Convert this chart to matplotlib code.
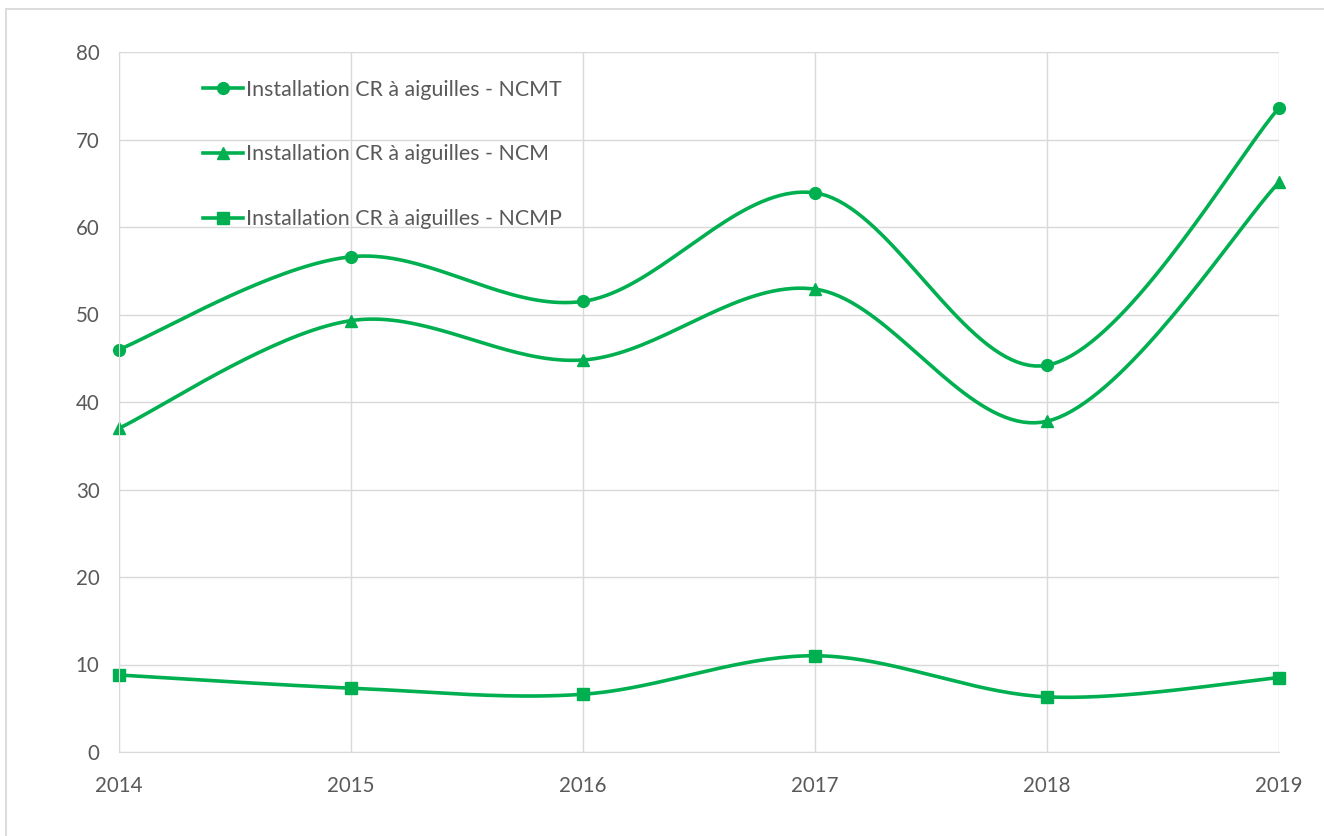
import numpy as np
import matplotlib
matplotlib.use("Agg")
import matplotlib.pyplot as plt
from matplotlib.patches import Rectangle

years = [2014, 2015, 2016, 2017, 2018, 2019]
ncmt = [46.0, 56.6, 51.5, 63.9, 44.2, 73.6]
ncm = [37.0, 49.3, 44.8, 52.9, 37.8, 65.1]
ncmp = [8.8, 7.3, 6.6, 11.0, 6.3, 8.5]
labels = ["Installation CR à aiguilles - NCMT",
          "Installation CR à aiguilles - NCM",
          "Installation CR à aiguilles - NCMP"]
markers = ["o", "^", "s"]
yticks = [0, 10, 20, 30, 40, 50, 60, 70, 80]

GREEN = "#00B050"
TXT = "#595959"
GRID = "#D9D9D9"

plt.rcParams['font.family'] = ['Lato', 'DejaVu Sans']


def smooth(x, y, n=40):
    """Excel-like smoothed line: Catmull-Rom converted to cubic Bezier."""
    x = np.asarray(x, float)
    y = np.asarray(y, float)
    P = np.column_stack([x, y])
    out = []
    for i in range(len(P) - 1):
        p0 = P[i - 1] if i > 0 else P[i]
        p1 = P[i]
        p2 = P[i + 1]
        p3 = P[i + 2] if i + 2 < len(P) else P[i + 1]
        c1 = p1 + (p2 - p0) / 6.0
        c2 = p2 - (p3 - p1) / 6.0
        t = np.linspace(0, 1, n)[:, None]
        seg = ((1 - t) ** 3) * p1 + 3 * ((1 - t) ** 2) * t * c1 + 3 * (1 - t) * t ** 2 * c2 + t ** 3 * p2
        if i > 0:
            seg = seg[1:]
        out.append(seg)
    out = np.vstack(out)
    return out[:, 0], out[:, 1]


W, H = 1324, 836
fig = plt.figure(figsize=(W / 100, H / 100), dpi=100)
fig.patch.set_facecolor("white")

# outer chart border (top and left visible)
fig.patches.append(Rectangle((6 / W, -0.1), 1.2, (H - 9) / H + 0.1, transform=fig.transFigure,
                             fill=False, edgecolor="#D9D9D9", linewidth=1.3))

ax = fig.add_axes([119 / W, (H - 752) / H, (1279 - 119) / W, (752 - 52) / H])
ax.set_xlim(years[0], years[-1])
ax.set_ylim(0, 80)
ax.set_xticks(years)
ax.set_yticks(yticks)
ax.grid(True, color=GRID, linewidth=1.0)
ax.set_axisbelow(True)
for s in ax.spines.values():
    s.set_visible(False)
ax.spines['bottom'].set_visible(True)
ax.spines['bottom'].set_color(GRID)
ax.spines['left'].set_visible(True)
ax.spines['left'].set_color(GRID)
ax.tick_params(length=0, labelsize=14.8, labelcolor=TXT)
ax.tick_params(axis='y', pad=14)
ax.tick_params(axis='x', pad=17)

handles = []
for vals, m, lab in zip([ncmt, ncm, ncmp], markers, labels):
    sx, sy = smooth(years, vals)
    ax.plot(sx, sy, color=GREEN, linewidth=2.6, solid_capstyle='round', clip_on=False)
    ax.plot(years, vals, linestyle='none', marker=m, color=GREEN, markersize=8.5, clip_on=False)
    h, = ax.plot([], [], color=GREEN, linewidth=2.6, marker=m, markersize=8.5, label=lab)
    handles.append(h)

fs = 15.4
fs_px = fs * 100 / 72
leg = ax.legend(handles=handles, loc='upper left',
                bbox_to_anchor=(203 / W, (H - 79.5) / H), bbox_transform=fig.transFigure,
                frameon=False, fontsize=fs, borderpad=0, borderaxespad=0,
                handlelength=40 / fs_px, handletextpad=3 / fs_px,
                labelspacing=2.1, markerscale=1.0)
for t in leg.get_texts():
    t.set_color(TXT)

fig.savefig("out.png", dpi=100, facecolor="white")
